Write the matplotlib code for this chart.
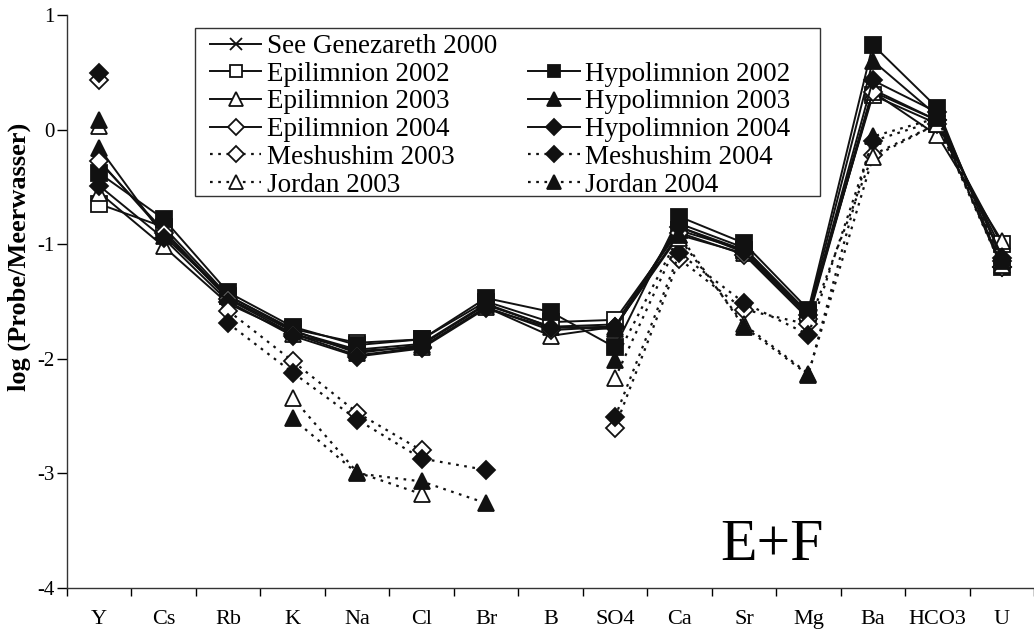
import numpy as np
import matplotlib
matplotlib.use("Agg")
import matplotlib.pyplot as plt
from matplotlib.lines import Line2D
from matplotlib.patches import Rectangle

nan = np.nan
categories = ["Y", "Cs", "Rb", "K", "Na", "Cl", "Br", "B", "SO4", "Ca", "Sr", "Mg", "Ba", "HCO3", "U"]

genezareth_2000 = [-0.28, -0.88, -1.47, -1.76, -1.92, -1.87, -1.52, -1.72, -1.70, -0.85, -1.05, -1.62, 0.35, 0.08, -1.05]
epi_2002 = [-0.65, -0.85, -1.45, -1.74, -1.86, -1.83, -1.50, -1.68, -1.66, -0.88, -1.05, -1.60, 0.30, 0.05, -1.00]
hypo_2002 = [-0.38, -0.78, -1.42, -1.72, -1.88, -1.83, -1.47, -1.59, -1.90, -0.76, -0.99, -1.57, 0.74, 0.19, -1.20]
epi_2003 = [-0.55, -1.02, -1.52, -1.78, -1.93, -1.90, -1.55, -1.80, -1.72, -0.92, -1.08, -1.63, 0.33, -0.05, -0.97]
hypo_2003 = [-0.16, -0.93, -1.45, -1.75, -1.95, -1.88, -1.53, -1.72, -1.74, -0.82, -1.03, -1.60, 0.60, 0.12, -1.10]
epi_2004 = [-0.27, -0.90, -1.48, -1.78, -1.97, -1.90, -1.55, -1.75, -1.72, -0.90, -1.09, -1.65, 0.33, 0.08, -1.20]
hypo_2004 = [-0.49, -0.95, -1.50, -1.80, -1.98, -1.91, -1.56, -1.73, -1.72, -0.85, -1.07, -1.62, 0.43, 0.15, -1.12]
mesh_2003 = [0.43, nan, -1.58, -2.02, -2.47, -2.80, nan, nan, -2.60, -1.13, -1.57, -1.70, -0.22, 0.05, -1.20]
mesh_2004 = [0.49, nan, -1.69, -2.12, -2.53, -2.87, -2.97, nan, -2.51, -1.08, -1.51, -1.79, -0.10, 0.08, -1.15]
jordan_2003 = [0.03, nan, nan, -2.34, -2.99, -3.18, nan, nan, -2.17, -0.95, -1.70, -2.13, -0.24, 0.05, -1.18]
jordan_2004 = [0.08, nan, nan, -2.52, -3.00, -3.07, -3.26, nan, -2.01, -0.92, -1.72, -2.14, -0.06, 0.10, -1.15]

labels = ["See Genezareth 2000", "Epilimnion 2002", "Hypolimnion 2002", "Epilimnion 2003",
          "Hypolimnion 2003", "Epilimnion 2004", "Hypolimnion 2004", "Meshushim 2003",
          "Meshushim 2004", "Jordan 2003", "Jordan 2004"]
series = [genezareth_2000, epi_2002, hypo_2002, epi_2003, hypo_2003, epi_2004, hypo_2004,
          mesh_2003, mesh_2004, jordan_2003, jordan_2004]

K = "#111111"
DOT = (0, (1.2, 2.5))
styles = {
    "See Genezareth 2000": dict(marker="x", mfc="none", ms=10, ls="-"),
    "Epilimnion 2002": dict(marker="s", mfc="white", ms=11, ls="-"),
    "Hypolimnion 2002": dict(marker="s", mfc=K, ms=11, ls="-"),
    "Epilimnion 2003": dict(marker="^", mfc="white", ms=12, ls="-"),
    "Hypolimnion 2003": dict(marker="^", mfc=K, ms=12, ls="-"),
    "Epilimnion 2004": dict(marker="D", mfc="white", ms=9, ls="-"),
    "Hypolimnion 2004": dict(marker="D", mfc=K, ms=9, ls="-"),
    "Meshushim 2003": dict(marker="D", mfc="white", ms=9, ls=DOT),
    "Meshushim 2004": dict(marker="D", mfc=K, ms=9, ls=DOT),
    "Jordan 2003": dict(marker="^", mfc="white", ms=12, ls=DOT),
    "Jordan 2004": dict(marker="^", mfc=K, ms=12, ls=DOT),
}

plt.rcParams["font.family"] = ["Liberation Serif", "DejaVu Serif"]

fig = plt.figure(figsize=(10.34, 6.33), dpi=100)
W, H = 1034, 633
ax = fig.add_axes([67 / W, 1 - 588 / H, (1034 - 67) / W, (588 - 15) / H])

x = np.arange(len(categories))
handles = {}
for lab, ys in zip(labels, series):
    st = styles[lab]
    lw = 1.6 if isinstance(st["ls"], tuple) else 1.4
    h, = ax.plot(x, ys, color=K, lw=lw, ls=st["ls"], marker=st["marker"], ms=st["ms"],
                 mfc=st["mfc"], mec=K, mew=1.3, label=lab)
    handles[lab] = h

ax.set_xlim(-0.5, len(categories) - 0.5)
ax.set_ylim(-4, 1)
ax.set_yticks([1, 0, -1, -2, -3, -4])
ax.set_yticklabels(["1", "0", "-1", "-2", "-3", "-4"])
ax.set_xticks(x)
ax.set_xticklabels(categories)
ax.set_xticks(np.arange(-0.5, len(categories) + 0.5, 1), minor=True)
ax.tick_params(axis="x", which="major", length=0, pad=16, labelsize=16)
ax.tick_params(axis="x", which="minor", length=6, direction="out", width=1)
ax.tick_params(axis="y", which="major", length=7, direction="out", width=1, labelsize=15, pad=2)
for s in ["top", "right"]:
    ax.spines[s].set_visible(False)
for s in ["left", "bottom"]:
    ax.spines[s].set_color("#333333")
    ax.spines[s].set_linewidth(1.0)

ax.set_ylabel("log (Probe/Meerwasser)", fontsize=19, fontweight="bold")
ax.yaxis.set_label_coords((31 - 67) / 967, (588 - 257) / 573)

ax.text((772 - 67) / 967, (588 - 560) / 573, "E+F", transform=ax.transAxes, fontsize=43,
        ha="center", va="baseline")

blank = Line2D([], [], linestyle="none", marker=None)
order_col1 = ["See Genezareth 2000", "Epilimnion 2002", "Epilimnion 2003", "Epilimnion 2004",
              "Meshushim 2003", "Jordan 2003"]
order_col2 = ["Hypolimnion 2002", "Hypolimnion 2003", "Hypolimnion 2004", "Meshushim 2004", "Jordan 2004"]
leg_h = [handles[l] for l in order_col1] + [blank] + [handles[l] for l in order_col2]
leg_l = order_col1 + [""] + order_col2
leg = ax.legend(leg_h, leg_l, ncol=2, loc="upper left",
                bbox_to_anchor=(210 / W, 1 - 34 / H), bbox_transform=fig.transFigure,
                frameon=False, fontsize=19.5, labelspacing=0.1, handlelength=1.9,
                handletextpad=0.2, columnspacing=1.15, borderpad=0.0, borderaxespad=0.0,
                markerscale=0.85)
fig.add_artist(Rectangle((195 / W, 1 - 196 / H), (820 - 195) / W, (196 - 28) / H,
                         transform=fig.transFigure, fill=False, ec="#333333", lw=1.0))

fig.savefig("out.png", dpi=100, facecolor="white")
